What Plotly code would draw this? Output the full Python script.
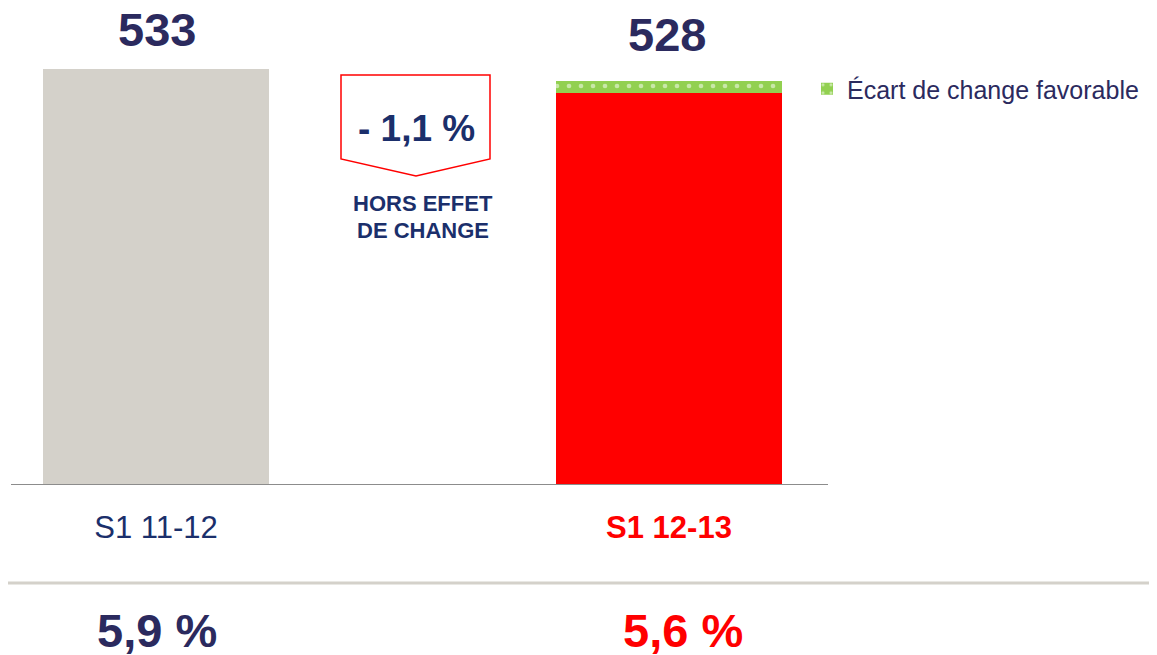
import plotly.graph_objects as go

# ---- data ----
categories = ["S1 11-12", "S1 12-13"]
category_ticktext = ["S1 11-12", "<b>S1 12-13</b>"]
base_values = [533, None]          # S1 11-12 total
current_values = [None, 523]       # S1 12-13 excluding FX effect
fx_effect = [None, 5]              # favourable FX effect
total_labels = ["533", "528"]
margin_labels = ["5,9 %", "5,6 %"]
change_label = "- 1,1 %"
change_note = ["HORS EFFET", "DE CHANGE"]
legend_label = "Écart de change favorable"

# ---- styles ----
FONT = "Liberation Sans, Arial, sans-serif"
NAVY = "#2B2A5E"
BLUE = "#1B2F6B"
RED = "#FF0000"
GREY = "#D4D1CA"
GREEN = "#92D050"

OFF = 8  # page body margin
W, H = 1157 - OFF, 655 - OFF
L, R, T, B = 3, 329, 12, 171
PW, PH = W - L - R, H - T - B
PXU = 2.4  # pixels per value unit


def px(x):
    return (x - OFF - L) / PW


def py(y):
    return (H - B - (y - OFF)) / PH


xpos = [0, 1]
bw = 226 / 513
fig = go.Figure()
fig.add_trace(go.Bar(x=xpos, y=base_values, marker=dict(color=GREY, line=dict(width=0)),
                     width=bw, showlegend=False, hoverinfo="y"))
fig.add_trace(go.Bar(x=xpos, y=current_values, marker=dict(color=RED, line=dict(width=0)),
                     width=bw, showlegend=False, hoverinfo="y"))
fig.add_trace(go.Bar(x=xpos, y=fx_effect, name=legend_label, width=bw,
                     marker=dict(color=GREEN, line=dict(width=0),
                                 pattern=dict(shape=".", fgcolor="white", bgcolor=GREEN,
                                              size=12, solidity=0.12)),
                     hoverinfo="y"))

fig.update_layout(
    width=W, height=H,
    margin=dict(l=L, r=R, t=T, b=B, pad=0),
    paper_bgcolor="white", plot_bgcolor="white",
    barmode="stack",
    font=dict(family=FONT, color=NAVY),
    legend=dict(x=px(807), y=py(89), xanchor="left", yanchor="middle",
                font=dict(size=25, color=NAVY, family=FONT), bgcolor="rgba(0,0,0,0)"),
    xaxis=dict(range=[(11 - 156) / 513, (828 - 156) / 513], tickvals=xpos,
               ticktext=[f"<span style='color:{BLUE}'>{category_ticktext[0]}</span>",
                         f"<span style='color:{RED}'>{category_ticktext[1]}</span>"],
               tickfont=dict(size=31, family=FONT), ticks="", showgrid=False,
               zeroline=False, showline=True, linecolor="#8C8C8C", linewidth=1,
               ticklabelstandoff=16, fixedrange=True),
    yaxis=dict(range=[360, 360 + PH / PXU], visible=False, showgrid=False, fixedrange=True),
)

ann = []
# totals above bars
ann.append(dict(x=px(156.5), y=py(29.5), text=f"<b>{total_labels[0]}</b>",
                font=dict(size=47, color=NAVY)))
ann.append(dict(x=px(666.5), y=py(34.5), text=f"<b>{total_labels[1]}</b>",
                font=dict(size=47, color=NAVY)))
# change callout
ann.append(dict(x=px(416), y=py(128.5), text=f"<b>{change_label}</b>",
                font=dict(size=37, color=BLUE)))
ann.append(dict(x=px(423), y=py(203.5), text=f"<b>{change_note[0]}</b>",
                font=dict(size=22, color=BLUE)))
ann.append(dict(x=px(423), y=py(230.5), text=f"<b>{change_note[1]}</b>",
                font=dict(size=22, color=BLUE)))
# margins row
ann.append(dict(x=px(157), y=py(630), text=f"<b>{margin_labels[0]}</b>",
                font=dict(size=47, color=NAVY)))
ann.append(dict(x=px(683), y=py(630), text=f"<b>{margin_labels[1]}</b>",
                font=dict(size=47, color=RED)))
for a in ann:
    a.update(xref="paper", yref="paper", xanchor="center", yanchor="middle",
             showarrow=False)
    a["font"]["family"] = FONT
fig.update_layout(annotations=ann)

# callout arrow box
pts = [(341, 75), (490, 75), (490, 159), (416, 176), (341, 159)]
path = "M " + " L ".join(f"{px(x)},{py(y)}" for x, y in pts) + " Z"
fig.add_shape(type="path", path=path, xref="paper", yref="paper",
              line=dict(color=RED, width=1.5), fillcolor="white", layer="above")
# separator line
fig.add_shape(type="line", xref="paper", yref="paper", x0=px(0), x1=px(1157),
              y0=py(583), y1=py(583), line=dict(color=GREY, width=3))

fig.write_html("out.html", config={"displayModeBar": False})
